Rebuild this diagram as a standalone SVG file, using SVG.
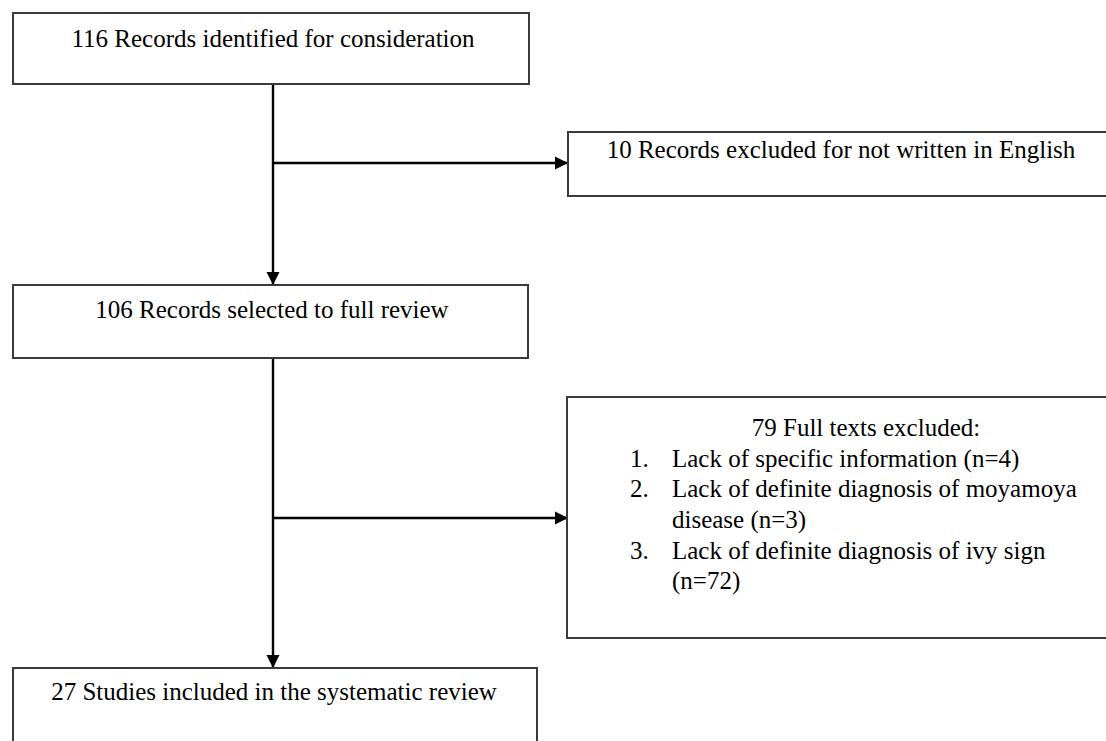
<svg xmlns="http://www.w3.org/2000/svg" width="1106" height="741" viewBox="0 0 1106 741">
<defs>
<marker id="arr" markerWidth="14" markerHeight="14" refX="12" refY="6.5" orient="auto" markerUnits="userSpaceOnUse" viewBox="0 0 14 13">
<path d="M0,0 L13,6.5 L0,13 Z" fill="#000"/>
</marker>
<style>
.box{fill:#fff;stroke:#3a3a3a;stroke-width:2}
.t{font-family:"Liberation Serif","Times New Roman",serif;font-size:25px;fill:#000}
.c{text-anchor:middle}
.ln{stroke:#000;stroke-width:2.4;fill:none}
</style>
</defs>
<rect width="1106" height="741" fill="#fff"/>
<g id="connectors">
<path class="ln" d="M273,84 V284" marker-end="url(#arr)"/>
<path class="ln" d="M273,163 H567" marker-end="url(#arr)"/>
<path class="ln" d="M273,358 V667" marker-end="url(#arr)"/>
<path class="ln" d="M273,518 H567" marker-end="url(#arr)"/>
</g>
<g id="n1">
<rect class="box" x="13" y="13" width="516" height="71"/>
<text class="t c" x="273" y="47">116 Records identified for consideration</text>
</g>
<g id="n2">
<rect class="box" x="568" y="132" width="550" height="64"/>
<text class="t c" x="841" y="158">10 Records excluded for not written in English</text>
</g>
<g id="n3">
<rect class="box" x="13" y="285" width="515" height="73"/>
<text class="t c" x="272" y="318">106 Records selected to full review</text>
</g>
<g id="n4">
<rect class="box" x="567" y="397" width="550" height="241"/>
<text class="t c" x="866" y="436">79 Full texts excluded:</text>
<text class="t" x="630" y="467">1.</text>
<text class="t" x="672" y="467">Lack of specific information (n=4)</text>
<text class="t" x="630" y="497">2.</text>
<text class="t" x="672" y="497">Lack of definite diagnosis of moyamoya</text>
<text class="t" x="672" y="528">disease (n=3)</text>
<text class="t" x="630" y="559">3.</text>
<text class="t" x="672" y="559">Lack of definite diagnosis of ivy sign</text>
<text class="t" x="672" y="589">(n=72)</text>
</g>
<g id="n5">
<rect class="box" x="13" y="668" width="524" height="90"/>
<text class="t c" x="274" y="700">27 Studies included in the systematic review</text>
</g>
</svg>
